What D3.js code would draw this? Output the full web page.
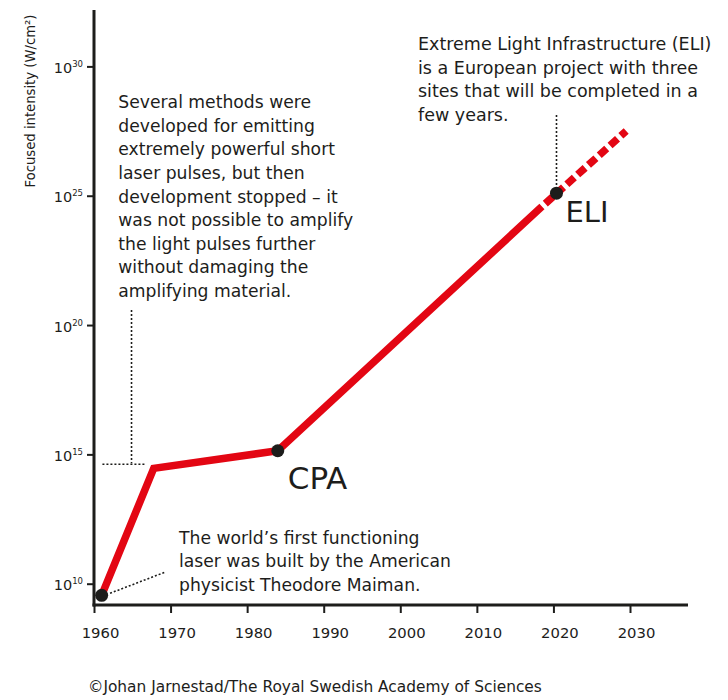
<!DOCTYPE html>
<html><head><meta charset="utf-8">
<script src="https://cdn.jsdelivr.net/npm/d3@7"></script>
<style>
body{margin:0;background:#fff}
svg{display:block}
text{font-family:"DejaVu Sans",sans-serif;fill:#1d1d1b}
</style>
</head><body>
<svg id="chart" width="728" height="700"></svg>
<script>
// ---- data ----
const xTicks = [1960, 1970, 1980, 1990, 2000, 2010, 2020, 2030];
const yTickExponents = [10, 15, 20, 25, 30];
const solidYears = [1961, 1967.8, 1984, 2018.5];
const solidExponents = [9.55, 14.46, 15.14, 24.58];
const dashedYears = [2018.5, 2029.5];
const dashedExponents = [24.58, 27.5];
const milestoneYears = [1961, 1984, 2020.4];
const milestoneExponents = [9.55, 15.14, 25.1];
const milestoneLabels = ["", "CPA", "ELI"];
const yLabel = "Focused intensity (W/cm²)";
const credit = "©Johan Jarnestad/The Royal Swedish Academy of Sciences";
const noteStopped = ["Several methods were", "developed for emitting", "extremely powerful short",
  "laser pulses, but then", "development stopped – it", "was not possible to amplify",
  "the light pulses further", "without damaging the", "amplifying material."];
const noteMaiman = ["The world’s first functioning", "laser was built by the American", "physicist Theodore Maiman."];
const noteELI = ["Extreme Light Infrastructure (ELI)", "is a European project with three",
  "sites that will be completed in a", "few years."];
// leader lines in data units [year, exponent]
const leaders = [
  [[1964.9, 20.58], [1964.9, 14.66]],
  [[1961.1, 14.62], [1966.75, 14.62]],
  [[1962.1, 9.63], [1969.4, 10.46]],
  [[2020.4, 28.12], [2020.4, 25.22]]
];

// ---- drawing ----
const svg = d3.select("#chart");
const ink = "#1d1d1b", red = "#e30613";
const x = d3.scaleLinear().domain([1960, 2030]).range([94, 630]);
const y = d3.scaleLog().domain([1e10, 1e30]).range([583.7, 66.4]);
const px = (yr, e) => [x(yr), y(Math.pow(10, e))];

// y axis
const yAxis = d3.axisLeft(y).tickValues(yTickExponents.map(e => Math.pow(10, e)))
  .tickSize(7).tickFormat("");
const gy = svg.append("g").attr("transform", "translate(94,0)").call(yAxis);
gy.select(".domain").remove();
gy.selectAll(".tick line").attr("stroke", ink).attr("stroke-width", 2);
svg.append("line").attr("x1", 94).attr("x2", 94).attr("y1", 10).attr("y2", 606.5)
  .attr("stroke", ink).attr("stroke-width", 3);
const yl = svg.append("g").selectAll("text").data(yTickExponents).join("text")
  .attr("x", 83).attr("y", d => y(Math.pow(10, d)) + 6.5).attr("text-anchor", "end");
yl.append("tspan").attr("font-size", 14.5).text("10");
yl.append("tspan").attr("font-size", 8.5).attr("dy", -6).text(d => d);

svg.append("text").attr("transform", "translate(34.5,101) rotate(-90)")
  .attr("text-anchor", "middle").attr("font-size", 13.2).text(yLabel);

// x axis
const xAxis = d3.axisBottom(x).tickValues(xTicks).tickSize(8).tickFormat("");
const gx = svg.append("g").attr("transform", "translate(0,605)").call(xAxis);
gx.select(".domain").remove();
gx.selectAll(".tick line").attr("stroke", ink).attr("stroke-width", 2);
svg.append("line").attr("x1", 92.5).attr("x2", 688).attr("y1", 605).attr("y2", 605)
  .attr("stroke", ink).attr("stroke-width", 3);
svg.append("g").selectAll("text").data(xTicks).join("text")
  .attr("x", d => x(d) + 6.5).attr("y", 637.5).attr("text-anchor", "middle")
  .attr("font-size", 14.8).text(d => d);

// leaders
const line = d3.line().x(d => px(d[0], d[1])[0]).y(d => px(d[0], d[1])[1]);
svg.append("g").selectAll("path").data(leaders).join("path")
  .attr("d", line).attr("fill", "none").attr("stroke", ink)
  .attr("stroke-width", 1.6).attr("stroke-dasharray", "2,2");

// series
const solid = solidYears.map((v, i) => [v, solidExponents[i]]);
const dashed = dashedYears.map((v, i) => [v, dashedExponents[i]]);
svg.append("path").attr("d", line(solid)).attr("fill", "none").attr("stroke", red)
  .attr("stroke-width", 7.5).attr("stroke-linejoin", "miter");
svg.append("path").attr("d", line(dashed)).attr("fill", "none").attr("stroke", red)
  .attr("stroke-width", 7.5).attr("stroke-dasharray", "10,4.5").attr("stroke-dashoffset", 10);

// milestones
const ms = milestoneYears.map((v, i) => ({yr: v, e: milestoneExponents[i], label: milestoneLabels[i]}));
svg.append("g").selectAll("circle").data(ms).join("circle")
  .attr("cx", d => px(d.yr, d.e)[0]).attr("cy", d => px(d.yr, d.e)[1])
  .attr("r", 6.5).attr("fill", ink);
svg.append("text").attr("x", px(1984, 15.14)[0] + 10).attr("y", 489).attr("font-size", 31).text(milestoneLabels[1]);
svg.append("text").attr("x", px(2020.4, 25.1)[0] + 9).attr("y", 222).attr("font-size", 29).text(milestoneLabels[2]);

// notes
function note(lines, x0, y0, lh, fs) {
  svg.append("g").selectAll("text").data(lines).join("text")
    .attr("x", x0).attr("y", (d, i) => y0 + i * lh).attr("font-size", fs).text(d => d);
}
note(noteStopped, 118.3, 108.3, 23.55, 17.2);
note(noteMaiman, 179, 543.5, 23.5, 17.2);
note(noteELI, 418, 50, 23.5, 17.5);

svg.append("text").attr("x", 88).attr("y", 692).attr("font-size", 15.4).text(credit);
</script>
</body></html>
